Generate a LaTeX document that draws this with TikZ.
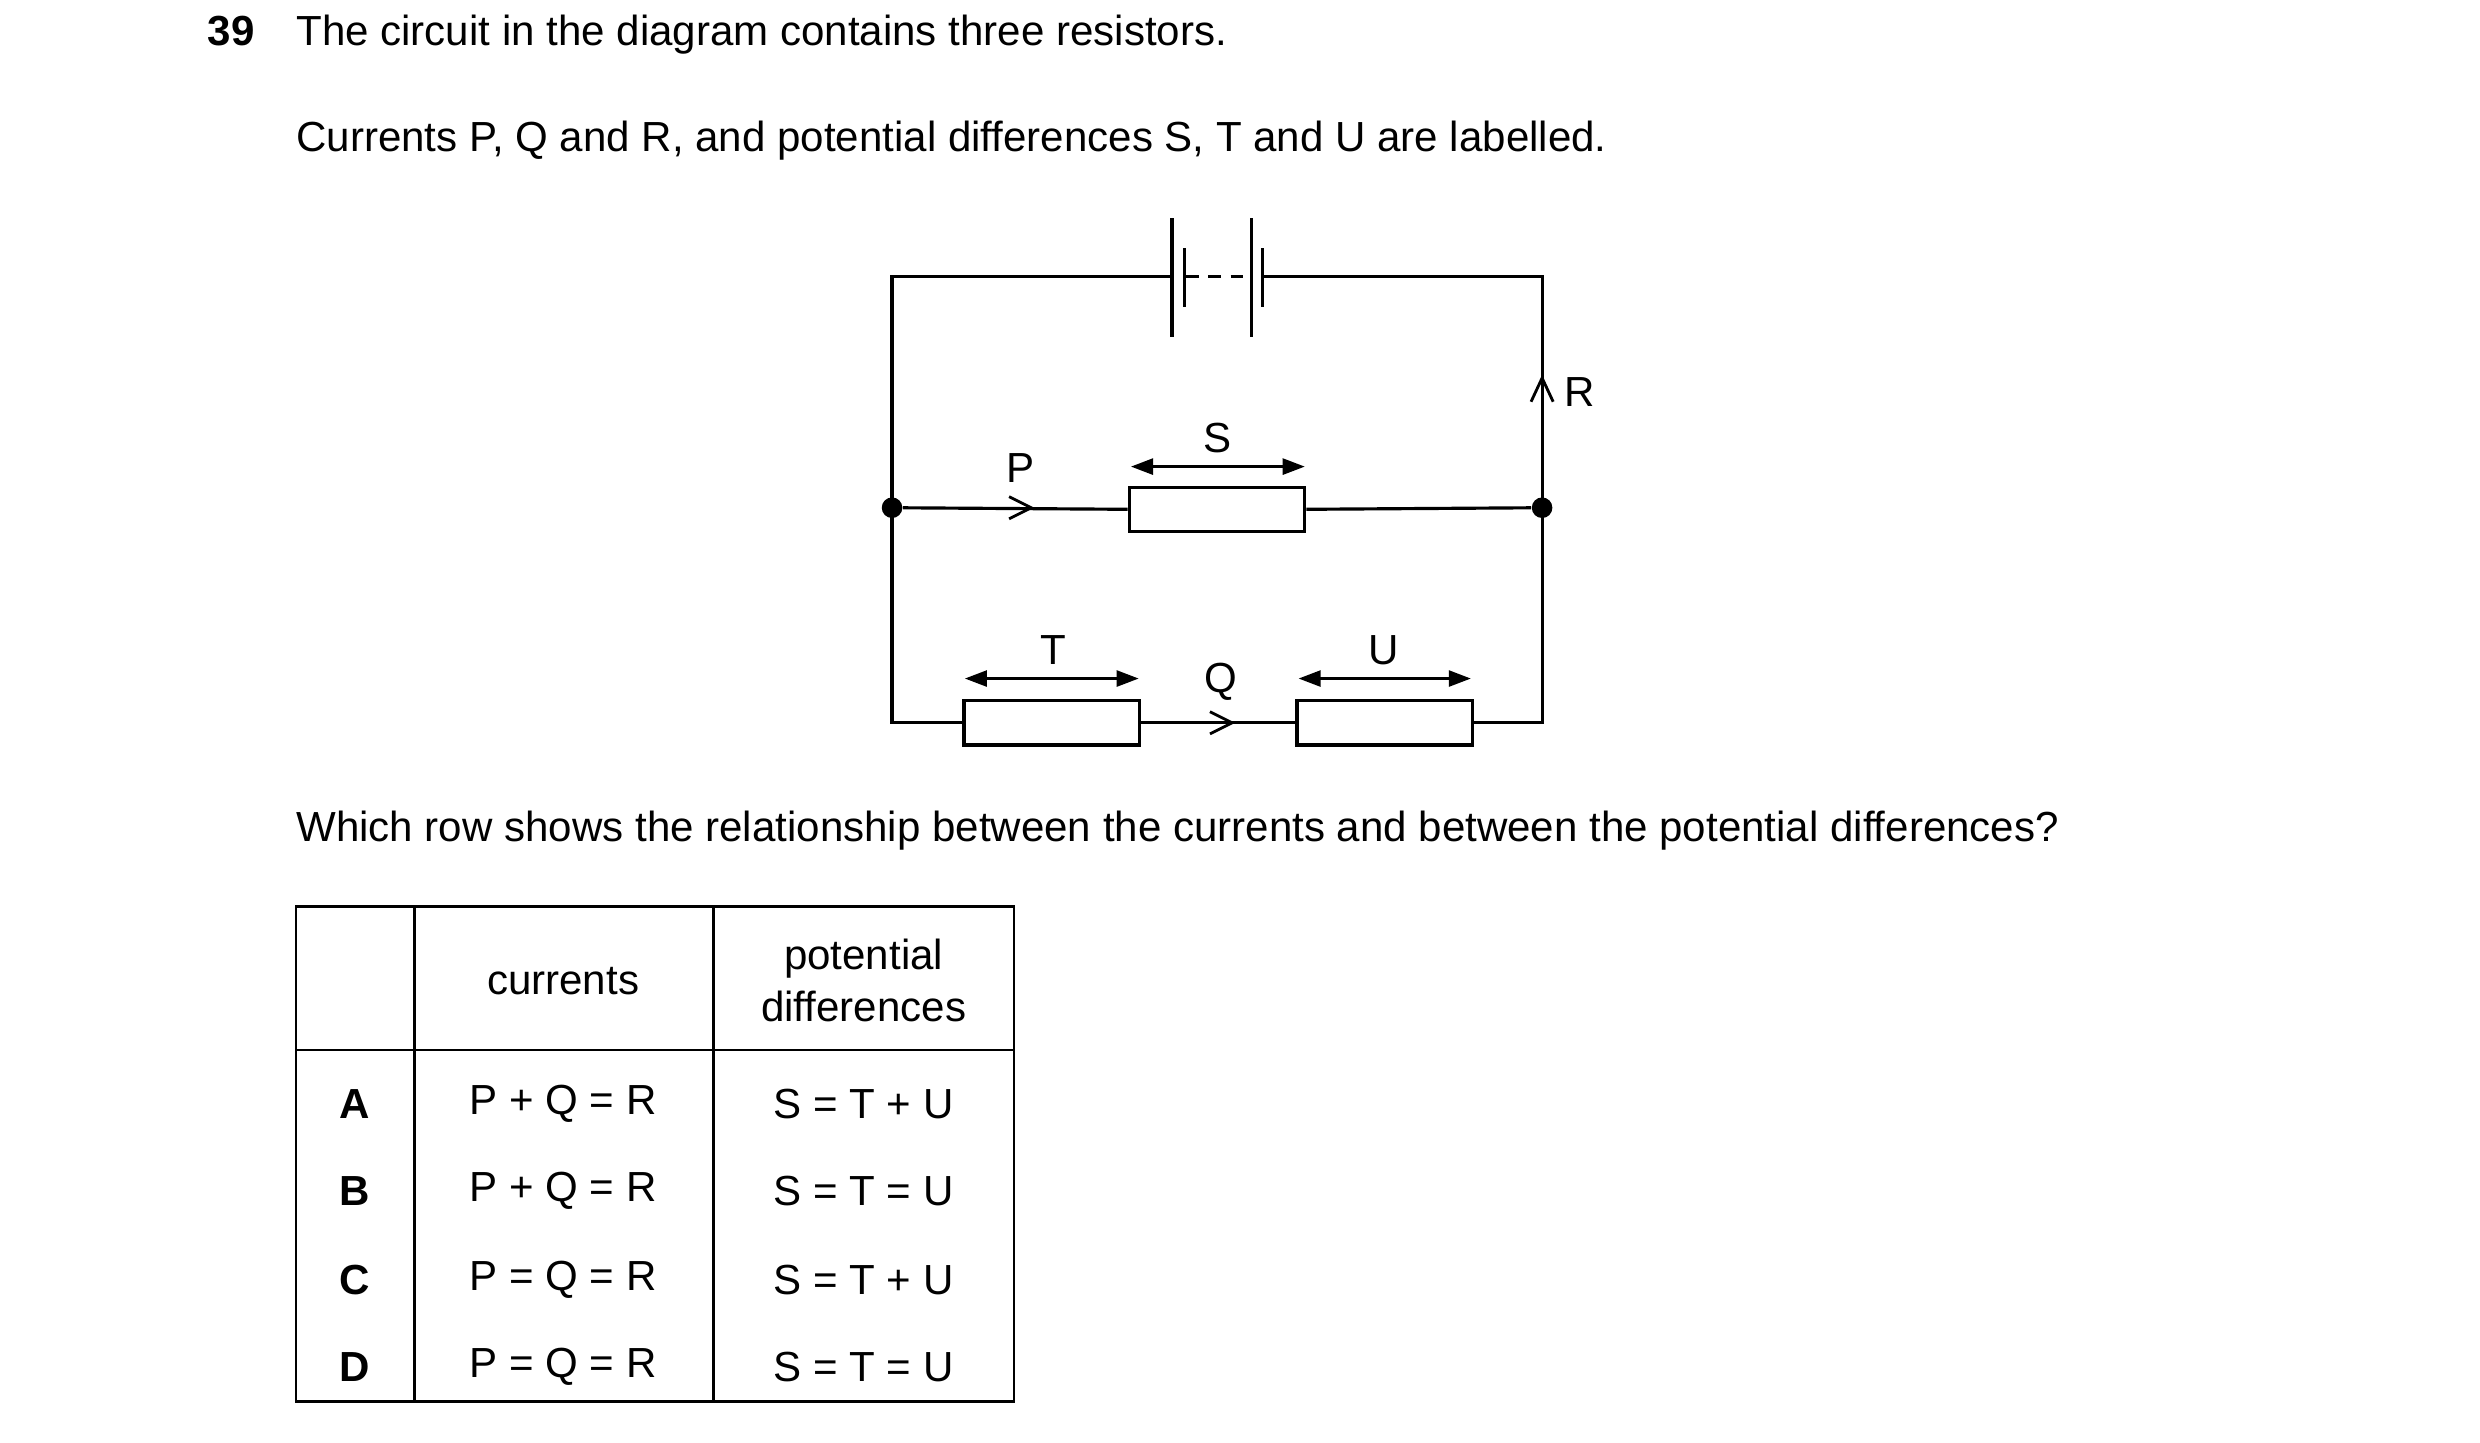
\documentclass[tikz,border=0pt]{standalone}
\usepackage{fontspec}
\setmainfont{Liberation Sans}
\usetikzlibrary{arrows.meta}
\begin{document}
\begin{tikzpicture}[x=0.5pt,y=-0.5pt,
  txt/.style={font=\fontsize{13.3}{16}\selectfont,inner sep=0pt},
  wire/.style={line width=1pt},
  res/.style={draw,line width=1pt,minimum width=55.5pt,minimum height=14pt,inner sep=0pt,fill=white},
  pd/.style={line width=1pt,{Triangle[length=7pt,width=5pt]}-{Triangle[length=7pt,width=5pt]}},
  chev/.style={line width=0.9pt},
  dot/.style={circle,fill,inner sep=0pt,minimum size=6.5pt},
  cell/.style={line width=1pt}]
\useasboundingbox (0,0) rectangle (1568,912);
\node[txt,anchor=base west,font=\fontsize{13.3}{16}\selectfont\bfseries] (num) at (131,29) {39};
\node[txt,anchor=base west] (l1) at (187,29) {The circuit in the diagram contains three resistors.};
\node[txt,anchor=base west] (l2) at (187,96) {Currents P, Q and R, and potential differences S, T and U are labelled.};
\node[txt,anchor=base west] (l3) at (187,532) {Which row shows the relationship between the currents and between the potential differences?};
% circuit
\coordinate (tl) at (564,175); \coordinate (tr) at (975,175);
\coordinate (bl) at (564,457); \coordinate (br) at (975,457);
\node[dot] (jl) at (564,321) {};
\node[dot] (jr) at (975,321) {};
\coordinate (b1) at (741,175); \coordinate (b2) at (798,175);
\node[res] (rS) at (769.5,322) {};
\node[res] (rT) at (665,457) {};
\node[res] (rU) at (875.5,457) {};
\draw[wire] (b1) -- (tl) -- (jl.center) -- (bl) -- (rT.west);
\draw[wire] (b2) -- (tr) -- (jr.center) -- (br) -- (rU.east);
\draw[wire] (jl) -- (rS.west); \draw[wire] (rS.east) -- (jr);
\draw[wire] (rT.east) -- (rU.west);
% battery
\draw[cell] (741,138) -- (741,213);
\draw[cell] (749,157) -- (749,194);
\draw[cell] (791,138) -- (791,213);
\draw[cell] (798,157) -- (798,194);
\draw[cell,dash pattern=on 4pt off 3pt] (750,175) -- (790,175);
% chevrons
\draw[chev] (638,314) -- (652,321) -- (638,328);
\draw[chev] (765,450) -- (779,457) -- (765,464);
\draw[chev] (968,254) -- (975,239) -- (982,254);
% pd arrows
\draw[pd] (715,295) -- (825,295);
\draw[pd] (610,429) -- (720,429);
\draw[pd] (821,429) -- (930,429);
\node[txt] (S) at (770,277) {S};
\node[txt] (P) at (645,296) {P};
\node[txt] (R) at (999,248) {R};
\node[txt] (T) at (666,411) {T};
\node[txt] (Q) at (772,431) {Q};
\node[txt] (U) at (875,411) {U};
% table
\draw[line width=0.8pt] (187,573) rectangle (641,886);
\draw[line width=0.8pt] (262,573) -- (262,886);
\draw[line width=0.8pt] (451,573) -- (451,886);
\draw[line width=0.8pt] (187,664) -- (641,664);
\node[txt] (hc) at (356,620) {currents};
\node[txt,align=center,font=\fontsize{13.3}{16.5}\selectfont] (hp) at (546,620) {potential\\differences};
\foreach \y/\L/\c/\p [count=\i] in {698/A/P + Q = R/S = T + U,753/B/P + Q = R/S = T = U,809/C/P = Q = R/S = T + U,864/D/P = Q = R/S = T = U}{
  \node[txt,font=\fontsize{13.3}{16}\selectfont\bfseries] (L\i) at (224,\y) {\L};
  \node[txt] (C\i) at (356,\y) {\c};
  \node[txt] (V\i) at (546,\y) {\p};
}
\end{tikzpicture}
\end{document}
